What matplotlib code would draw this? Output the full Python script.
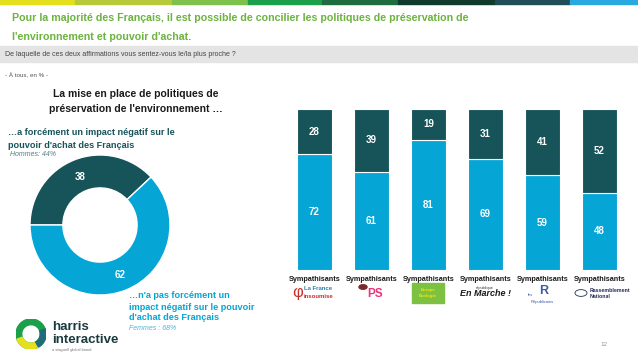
import numpy as np
import matplotlib
matplotlib.use('Agg')
import matplotlib.pyplot as plt
from matplotlib.patches import Rectangle, Circle, Wedge

# -----------------------------------
# data
DONUT_LABELS = ['impact negatif', 'pas d impact negatif']
DONUT_VALUES = [38, 62]
PARTIES = ['La France insoumise', 'PS', 'EELV', 'En Marche !', 'Les Republicains', 'Rassemblement National']
BAR_YES = [72, 61, 81, 69, 59, 48]      # n'a pas forcement un impact negatif
BAR_NO = [28, 39, 19, 31, 41, 52]       # a forcement un impact negatif
STRIPE_COLS = ['#e4e11c', '#b9c93c', '#7ec24b', '#1c9f4b', '#1f6d3f', '#0f3a2c', '#1f4d58', '#2aa8e0']
STRIPE_EDGES = [0, 75, 172, 248, 322, 398, 495, 570, 638]
# -----------------------------------

W, H = 638, 359
DARK = '#17545a'
BLUE = '#05a5d6'
GREEN = '#6cb33f'
WIDE = ['Liberation Sans', 'DejaVu Sans']

plt.rcParams['font.family'] = ['Liberation Sans Narrow', 'Liberation Sans', 'DejaVu Sans']

fig = plt.figure(figsize=(W / 100, H / 100), dpi=100)


def fx(x):
    return x / W


def fy(y):
    return 1 - y / H


# top colour stripe
for i, c in enumerate(STRIPE_COLS):
    fig.patches.append(Rectangle((fx(STRIPE_EDGES[i]), fy(3.5)), fx(STRIPE_EDGES[i + 1] - STRIPE_EDGES[i]), 3.5 / H,
                                 transform=fig.transFigure, color=c, zorder=0))

# title
fig.text(fx(12), fy(18), "Pour la majorité des Français, il est possible de concilier les politiques de préservation de",
         color=GREEN, fontsize=7.7, fontweight='bold', va='center', family=WIDE)
fig.text(fx(12), fy(37), "l'environnement et pouvoir d'achat.",
         color=GREEN, fontsize=7.7, fontweight='bold', va='center', family=WIDE)

# question band
fig.patches.append(Rectangle((0, fy(62)), 1, 15.5 / H, transform=fig.transFigure, color='#e4e4e4', zorder=0))
fig.text(fx(5), fy(54.5), "De laquelle de ces deux affirmations vous sentez-vous le/la plus proche ?",
         color='#444444', fontsize=5, va='center')
fig.text(fx(5), fy(74), "- À tous, en % -", color='#555555', fontsize=4.5, va='center')

# donut title and annotations
fig.text(fx(136), fy(94), "La mise en place de politiques de", ha='center', va='center',
         fontsize=7.5, fontweight='bold', color='#1a1a1a')
fig.text(fx(136), fy(109), "préservation de l'environnement …", ha='center', va='center',
         fontsize=7.5, fontweight='bold', color='#1a1a1a')
fig.text(fx(8), fy(133), "…a forcément un impact négatif sur le", va='center',
         fontsize=6.6, fontweight='bold', color=DARK)
fig.text(fx(8), fy(145), "pouvoir d'achat des Français", va='center',
         fontsize=6.6, fontweight='bold', color=DARK)
fig.text(fx(10), fy(155), "Hommes: 44%", va='center', fontsize=5, style='italic', color='#4a7f84')

fig.text(fx(129), fy(296), "…n'a pas forcément un", va='center', fontsize=6.6, fontweight='bold', color=BLUE)
fig.text(fx(129), fy(307), "impact négatif sur le pouvoir", va='center', fontsize=6.6, fontweight='bold', color=BLUE)
fig.text(fx(129), fy(318), "d'achat des Français", va='center', fontsize=6.6, fontweight='bold', color=BLUE)
fig.text(fx(129), fy(328), "Femmes : 68%", va='center', fontsize=5, style='italic', color='#4fb3d9')

# donut
ax1 = fig.add_axes([fx(30), fy(295), 140 / W, 140 / H])
ax1.pie(DONUT_VALUES, colors=[DARK, BLUE], startangle=180, counterclock=False, radius=1,
        wedgeprops=dict(width=0.47, edgecolor='white', linewidth=1))
ax1.set_xlim(-1, 1)
ax1.set_ylim(-1, 1)
ax1.text(-0.29, 0.69, str(DONUT_VALUES[0]), color='white', fontsize=7, fontweight='bold',
         ha='center', va='center', family=WIDE)
ax1.text(0.29, -0.71, str(DONUT_VALUES[1]), color='white', fontsize=7, fontweight='bold',
         ha='center', va='center', family=WIDE)

# stacked bars
ax2 = fig.add_axes([fx(286), fy(270), 342 / W, 161 / H])
x = np.arange(len(PARTIES))
ax2.bar(x, BAR_YES, width=0.61, color=BLUE, edgecolor='white', linewidth=0.8)
ax2.bar(x, BAR_NO, width=0.61, bottom=BAR_YES, color=DARK, edgecolor='white', linewidth=0.8)
for i in range(len(PARTIES)):
    ax2.text(x[i], BAR_YES[i] / 2, str(BAR_YES[i]), color='white', fontsize=7, fontweight='bold',
             ha='center', va='center', family=WIDE)
    ax2.text(x[i], BAR_YES[i] + BAR_NO[i] / 2, str(BAR_NO[i]), color='white', fontsize=7, fontweight='bold',
             ha='center', va='center', family=WIDE)
    ax2.text(x[i], -3.5, "Sympathisants", color='#1a1a1a', fontsize=5.2, fontweight='bold',
             ha='center', va='top')
ax2.set_xlim(-0.5, 5.5)
ax2.set_ylim(0, 100)
ax2.axis('off')

# party logos (approximated with text)
lx = [314, 371, 428, 485, 542, 599]
ly = 293
fig.text(fx(lx[0] - 22), fy(ly), "φ", color='#c9302c', fontsize=12, va='center')
fig.text(fx(lx[0] - 10), fy(ly - 4), "La France", color='#2c7fa8', fontsize=4.3, fontweight='bold', va='center')
fig.text(fx(lx[0] - 10), fy(ly + 3), "insoumise", color='#c9302c', fontsize=4.3, fontweight='bold', va='center')
fig.patches.append(Circle((fx(lx[1] - 8), fy(ly - 6)), 4 / W, transform=fig.transFigure, color='#7a2a2a'))
fig.text(fx(lx[1] - 4), fy(ly + 1), "PS", color='#e6357a', fontsize=8.5, fontweight='bold', va='center')
fig.patches.append(Rectangle((fx(lx[2] - 16), fy(ly + 10)), 32 / W, 20 / H, transform=fig.transFigure,
                             color='#7cc142'))
fig.text(fx(lx[2]), fy(ly), "Europe\nÉcologie", color='#f2e600', fontsize=3.2, fontweight='bold',
         ha='center', va='center')
fig.text(fx(lx[3]), fy(ly - 5), "république", color='#333333', fontsize=2.8, ha='center', va='center')
fig.text(fx(lx[3]), fy(ly + 1), "En Marche !", color='#1a1a1a', fontsize=6.5, fontweight='bold',
         style='italic', ha='center', va='center')
fig.text(fx(lx[4] + 2), fy(ly - 2), "R", color='#3b5ba5', fontsize=9, fontweight='bold', ha='center', va='center')
fig.text(fx(lx[4] - 14), fy(ly + 2), "les", color='#3b5ba5', fontsize=3, va='center')
fig.text(fx(lx[4]), fy(ly + 9), "Républicains", color='#3b5ba5', fontsize=3, ha='center', va='center')
fig.patches.append(Circle((fx(lx[5] - 18), fy(ly)), 6 / W, transform=fig.transFigure, fill=False,
                          edgecolor='#1f2d5a', linewidth=0.6))
fig.text(fx(lx[5] - 9), fy(ly - 3), "Rassemblement", color='#1f2d5a', fontsize=3.8, fontweight='bold', va='center')
fig.text(fx(lx[5] - 9), fy(ly + 3), "National", color='#1f2d5a', fontsize=3.8, fontweight='bold', va='center')

# harris interactive logo
ax3 = fig.add_axes([fx(16), fy(349), 30 / W, 30 / H])
ax3.add_patch(Wedge((0, 0), 1, 0, 360, width=0.38, color='#1c9f4b'))
ax3.add_patch(Wedge((0, 0), 1, 200, 300, width=0.38, color='#e4e11c'))
ax3.add_patch(Wedge((0, 0), 1, 300, 20, width=0.38, color='#1f6d7a'))
ax3.set_xlim(-1, 1)
ax3.set_ylim(-1, 1)
ax3.set_aspect('equal')
ax3.axis('off')
fig.text(fx(52), fy(327), "harris", color='#1a3a40', fontsize=9.5, fontweight='bold', va='center', family=WIDE)
fig.text(fx(52), fy(340), "interactive", color='#1a3a40', fontsize=9.5, fontweight='bold', va='center', family=WIDE)
fig.text(fx(52), fy(350), "a stagwell global brand", color='#777777', fontsize=2.8, va='center')

fig.text(fx(604), fy(345), "12", color='#999999', fontsize=4.5, ha='center', va='center')

fig.savefig('out.png', dpi=100)
